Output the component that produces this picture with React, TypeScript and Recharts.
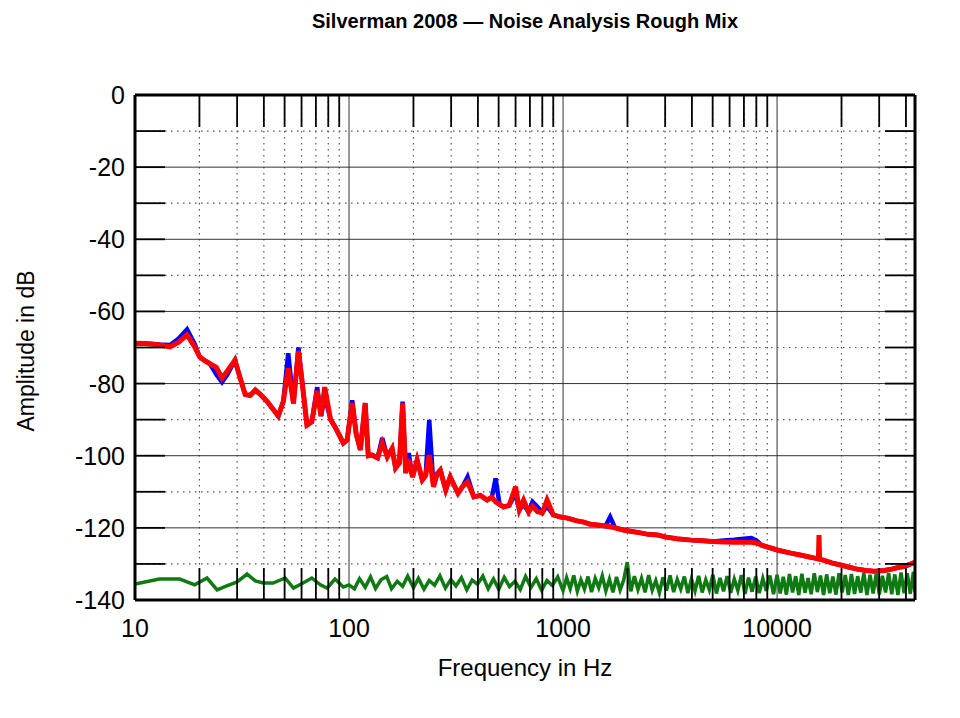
import React from "react";
import { CartesianGrid, Line, LineChart, XAxis, YAxis } from "recharts";

const FONT = "'Liberation Sans', Arial, Helvetica, sans-serif";

// x ticks (Hz) and y ticks (dB)
const decadeTicks = [10, 100, 1000, 10000];
const minorFreqTicks = [
  20, 30, 40, 50, 60, 70, 80, 90,
  200, 300, 400, 500, 600, 700, 800, 900,
  2000, 3000, 4000, 5000, 6000, 7000, 8000, 9000,
  20000, 30000, 40000,
];
const dbTicks = [0, -10, -20, -30, -40, -50, -60, -70, -80, -90, -100, -110, -120, -130, -140];
const dbMajor = [-20, -40, -60, -80, -100, -120];
const dbMinor = [-10, -30, -50, -70, -90, -110, -130];

// rough mix, two channels (blue / red) on shared frequency points
const mainFreq = [
  10, 11, 12, 13, 14.6, 16, 17.5, 19, 20, 21,
  22.4, 24, 25.5, 27, 29.3, 31, 32.7, 34.5, 36.5, 38.5,
  41.5, 44, 46.7, 49.3, 52, 55, 58, 60.5, 63.6, 67,
  71, 74, 77, 82, 86, 89, 94, 98, 103.5, 108,
  113, 119, 123, 128, 136, 143, 151, 159, 165, 172,
  178, 184, 190, 198, 208, 220, 228, 237, 248, 258,
  267, 283, 297, 323, 340, 358, 383, 411, 442, 465,
  484, 505, 527, 560, 600, 625, 654, 690, 720, 760,
  800, 842, 900, 975, 1050, 1150, 1250, 1340, 1450, 1580,
  1660, 1750, 1910, 2100, 2300, 2500, 2770, 3000, 3400, 3980,
  4500, 5000, 5650, 6300, 7000, 7580, 8000, 8450, 9000, 10100,
  11600, 13000, 13970, 15000, 15600, 15700, 15800, 16600, 18000, 19800,
  22000, 23900, 26000, 28500, 31700, 34000, 36800, 39000, 41000, 43000,
  44100,
];

const redDb = [
  -68.8, -68.9, -69.0, -69.3, -69.8, -68.5, -66.5, -69.8, -72.5, -73.5,
  -74.5, -75.5, -78.5, -76.5, -73.5, -78.5, -83.0, -83.3, -81.8, -83.0,
  -85.0, -87.0, -89.0, -85.0, -75.8, -85.5, -71.0, -80.0, -91.5, -90.6,
  -82.0, -89.0, -81.0, -90.0, -92.0, -93.7, -96.5, -95.6, -85.4, -94.0,
  -98.4, -85.4, -100.0, -99.8, -100.6, -96.5, -100.3, -98.0, -103.4, -102.0,
  -85.4, -104.8, -101.0, -105.9, -101.2, -106.7, -105.5, -99.8, -108.6, -105.0,
  -104.0, -109.5, -105.9, -110.4, -108.5, -107.3, -111.4, -111.0, -112.3, -111.5,
  -112.8, -113.5, -114.2, -113.8, -108.6, -115.0, -112.3, -115.6, -114.0, -115.5,
  -115.8, -112.3, -116.4, -117.0, -117.3, -118.0, -118.4, -119.0, -119.2, -119.5,
  -119.7, -120.0, -120.6, -121.0, -121.4, -121.8, -122.0, -122.5, -123.0, -123.4,
  -123.6, -123.8, -123.9, -124.0, -124.0, -124.0, -124.2, -124.8, -125.3, -126.2,
  -127.0, -127.6, -128.0, -128.4, -128.6, -122.0, -128.7, -129.0, -129.7, -130.3,
  -131.0, -131.5, -131.8, -132.0, -131.8, -131.5, -131.0, -130.7, -130.3, -129.8,
  -129.5,
];

const blueDb = [
  -68.8, -68.9, -69.0, -69.2, -69.3, -67.5, -65.0, -69.0, -72.5, -73.5,
  -74.5, -77.5, -79.6, -77.5, -73.5, -78.5, -83.0, -83.3, -81.8, -83.0,
  -85.0, -87.0, -89.0, -85.0, -71.6, -85.5, -70.0, -80.0, -91.5, -90.6,
  -81.0, -89.0, -83.5, -90.0, -92.0, -93.7, -96.5, -95.6, -84.6, -94.0,
  -98.4, -85.4, -100.0, -99.8, -100.6, -95.1, -100.3, -98.0, -103.4, -102.0,
  -85.0, -104.8, -99.3, -105.9, -101.2, -106.7, -105.5, -90.1, -108.6, -105.0,
  -104.0, -109.5, -105.9, -110.4, -108.5, -105.9, -111.4, -111.0, -112.3, -111.5,
  -106.3, -113.5, -114.2, -113.8, -110.5, -115.0, -113.5, -115.6, -112.8, -114.2,
  -115.8, -114.0, -116.4, -117.0, -117.3, -118.0, -118.4, -119.0, -119.2, -119.5,
  -117.0, -120.0, -120.6, -121.0, -121.4, -121.8, -122.0, -122.5, -123.0, -123.4,
  -123.6, -123.8, -123.5, -123.3, -123.0, -122.8, -123.5, -124.8, -125.3, -126.2,
  -127.0, -127.6, -128.0, -128.4, -128.6, -128.6, -128.7, -129.0, -129.7, -130.3,
  -131.0, -131.5, -131.8, -132.0, -131.8, -131.5, -131.0, -130.7, -130.3, -129.8,
  -129.5,
];

// noise floor (green)
const noiseFreq = [
  10, 13, 16.2, 19, 21.7, 24.2, 27, 30, 33.4, 36.5,
  39.7, 44.2, 50.3, 55, 61, 67, 73.5, 79, 86, 94,
  100, 106, 112, 119, 126, 133, 141, 150, 158, 168,
  178, 188, 200, 211, 224, 237, 251, 266, 282, 299,
  316, 335, 355, 376, 398, 422, 447, 473, 501, 531,
  562, 596, 631, 668, 708, 750, 794, 841, 891, 944,
  1000, 1039, 1080, 1122, 1166, 1212, 1259, 1308, 1359, 1413,
  1468, 1525, 1585, 1647, 1711, 1778, 1848, 1920, 1995, 2073,
  2154, 2239, 2326, 2417, 2512, 2610, 2712, 2818, 2929, 3043,
  3162, 3286, 3415, 3548, 3687, 3831, 3981, 4137, 4299, 4467,
  4642, 4824, 5012, 5208, 5412, 5623, 5843, 6072, 6310, 6556,
  6813, 7079, 7356, 7644, 7943, 8254, 8577, 8913, 9261, 9624,
  10000, 10339, 10690, 11052, 11427, 11814, 12215, 12629, 13057, 13500,
  13957, 14430, 14920, 15425, 15948, 16489, 17048, 17625, 18223, 18840,
  19479, 20139, 20822, 21528, 22257, 23012, 23792, 24598, 25432, 26294,
  27185, 28107, 29059, 30044, 31063, 32116, 33204, 34330, 35493, 36696,
  37940, 39226, 40555, 41930, 43351, 44100,
];

const noiseDb = [
  -135.6, -134.2, -134.2, -135.8, -133.9, -137.2, -136.0, -135.0, -132.8, -134.7,
  -135.3, -135.3, -133.9, -136.7, -135.3, -133.9, -135.8, -136.7, -134.2, -136.4,
  -135.8, -136.9, -134.1, -136.5, -133.6, -136.8, -134.4, -133.5, -136.9, -134.8,
  -136.2, -133.4, -136.6, -134.0, -137.0, -134.6, -135.9, -133.3, -136.7, -134.3,
  -136.1, -133.8, -137.2, -134.5, -135.6, -133.4, -136.9, -134.2, -137.0, -133.7,
  -136.3, -134.8, -137.1, -133.5, -136.5, -134.1, -137.3, -134.6, -136.0, -133.6,
  -137.4, -133.8, -136.9, -133.2, -137.6, -134.4, -137.0, -133.5, -137.8, -134.0,
  -136.6, -133.3, -137.5, -134.2, -137.9, -133.6, -137.2, -134.5, -129.5, -137.6,
  -133.4, -137.1, -134.0, -137.9, -133.1, -137.3, -134.6, -138.0, -133.7, -137.4,
  -133.2, -137.8, -134.3, -137.0, -133.5, -138.1, -134.1, -137.5, -133.3, -137.9,
  -134.4, -137.2, -133.0, -138.2, -133.9, -137.6, -133.4, -138.0, -134.2, -137.4,
  -133.1, -138.3, -133.8, -137.7, -133.5, -138.1, -134.0, -137.5, -133.2, -138.4,
  -133.0, -138.2, -133.6, -138.5, -132.8, -137.9, -133.4, -138.6, -132.7, -138.0,
  -133.9, -138.4, -132.6, -137.8, -133.2, -138.6, -132.9, -138.1, -133.5, -138.5,
  -132.6, -137.9, -133.1, -138.6, -132.8, -138.3, -133.4, -138.0, -132.5, -138.6,
  -133.0, -138.2, -132.7, -138.5, -133.3, -137.9, -132.5, -138.4, -132.9, -138.6,
  -132.4, -138.1, -132.6, -138.3, -132.2, -137.8,
];

const blueData = mainFreq.map((f, i) => ({ f, db: blueDb[i] }));
const redData = mainFreq.map((f, i) => ({ f, db: redDb[i] }));
const noiseData = noiseFreq.map((f, i) => ({ f, db: noiseDb[i] }));

const allFreqTicks = [...decadeTicks, ...minorFreqTicks].sort((a, b) => a - b);

const TICK_LEN = 32;
const LABEL_SIZE = 25;

function BottomTick(props: any) {
  const { x, y, payload } = props;
  const v = payload.value;
  const major = decadeTicks.includes(v);
  return (
    <g>
      {!major && <line x1={x} x2={x} y1={y} y2={y - TICK_LEN} stroke="#000" strokeWidth={1.8} />}
      {major && (
        <text x={x} y={y + 37} textAnchor="middle" fontSize={LABEL_SIZE} fontFamily={FONT} fill="#000">
          {v}
        </text>
      )}
    </g>
  );
}

function TopTick(props: any) {
  const { x, y, payload } = props;
  if (decadeTicks.includes(payload.value)) return <g />;
  return <line x1={x} x2={x} y1={y} y2={y + TICK_LEN} stroke="#000" strokeWidth={1.8} />;
}

function LeftTick(props: any) {
  const { x, y, payload } = props;
  const v = payload.value;
  return (
    <g>
      <line x1={x} x2={x + 30} y1={y} y2={y} stroke="#000" strokeWidth={1.8} />
      {v % 20 === 0 && (
        <text x={x - 10} y={y + 9} textAnchor="end" fontSize={LABEL_SIZE} fontFamily={FONT} fill="#000">
          {v}
        </text>
      )}
    </g>
  );
}

function RightTick(props: any) {
  const { x, y } = props;
  return <line x1={x} x2={x - 30} y1={y} y2={y} stroke="#000" strokeWidth={1.8} />;
}

const frame = { stroke: "#000", strokeWidth: 3 };

export default function App() {
  return (
    <div style={{ position: "absolute", left: 0, top: 0, width: 960, height: 718, background: "#fff", overflow: "hidden" }}>
      <LineChart width={960} height={718} margin={{ top: 94, right: 44, bottom: 117, left: 134 }}>
        <CartesianGrid
          horizontalValues={dbMinor}
          verticalValues={minorFreqTicks}
          stroke="#555"
          strokeWidth={1.2}
          strokeDasharray="1.5 4.5"
        />
        <CartesianGrid
          horizontalValues={dbMajor}
          verticalValues={[100, 1000, 10000]}
          stroke="#333"
          strokeWidth={1}
        />
        <Line
          data={noiseData}
          dataKey="db"
          type="linear"
          stroke="#0e7a12"
          strokeWidth={3.5}
          dot={false}
          isAnimationActive={false}
        />
        <Line
          data={blueData}
          dataKey="db"
          type="linear"
          stroke="#0000ff"
          strokeWidth={4.5}
          dot={false}
          isAnimationActive={false}
        />
        <Line
          data={redData}
          dataKey="db"
          type="linear"
          stroke="#ff0000"
          strokeWidth={5}
          dot={false}
          isAnimationActive={false}
        />
        <XAxis
          dataKey="f"
          type="number"
          scale="log"
          domain={[10, 44100]}
          allowDataOverflow
          ticks={allFreqTicks}
          interval={0}
          height={1}
          tickSize={0}
          tickMargin={0}
          tickLine={false}
          axisLine={frame}
          tick={<BottomTick />}
        />
        <XAxis
          xAxisId="top"
          orientation="top"
          dataKey="f"
          type="number"
          scale="log"
          domain={[10, 44100]}
          allowDataOverflow
          ticks={allFreqTicks}
          interval={0}
          height={1}
          tickSize={0}
          tickMargin={0}
          tickLine={false}
          axisLine={frame}
          tick={<TopTick />}
        />
        <YAxis
          type="number"
          domain={[-140, 0]}
          allowDataOverflow
          ticks={dbTicks}
          interval={0}
          width={1}
          tickSize={0}
          tickMargin={0}
          tickLine={false}
          axisLine={frame}
          tick={<LeftTick />}
        />
        <YAxis
          yAxisId="right"
          orientation="right"
          type="number"
          domain={[-140, 0]}
          allowDataOverflow
          ticks={dbTicks}
          interval={0}
          width={1}
          tickSize={0}
          tickMargin={0}
          tickLine={false}
          axisLine={frame}
          tick={<RightTick />}
        />
      </LineChart>
      <svg width={960} height={718} style={{ position: "absolute", left: 0, top: 0, pointerEvents: "none" }}>
        <text x={525} y={28} textAnchor="middle" fontSize={20} fontWeight="bold" fontFamily={FONT} fill="#000">
          Silverman 2008 — Noise Analysis Rough Mix
        </text>
        <text x={525} y={676} textAnchor="middle" fontSize={24} fontFamily={FONT} fill="#000">
          Frequency in Hz
        </text>
        <text
          transform="translate(34, 351) rotate(-90)"
          textAnchor="middle"
          fontSize={23}
          fontFamily={FONT}
          fill="#000"
        >
          Amplitude in dB
        </text>
      </svg>
    </div>
  );
}
